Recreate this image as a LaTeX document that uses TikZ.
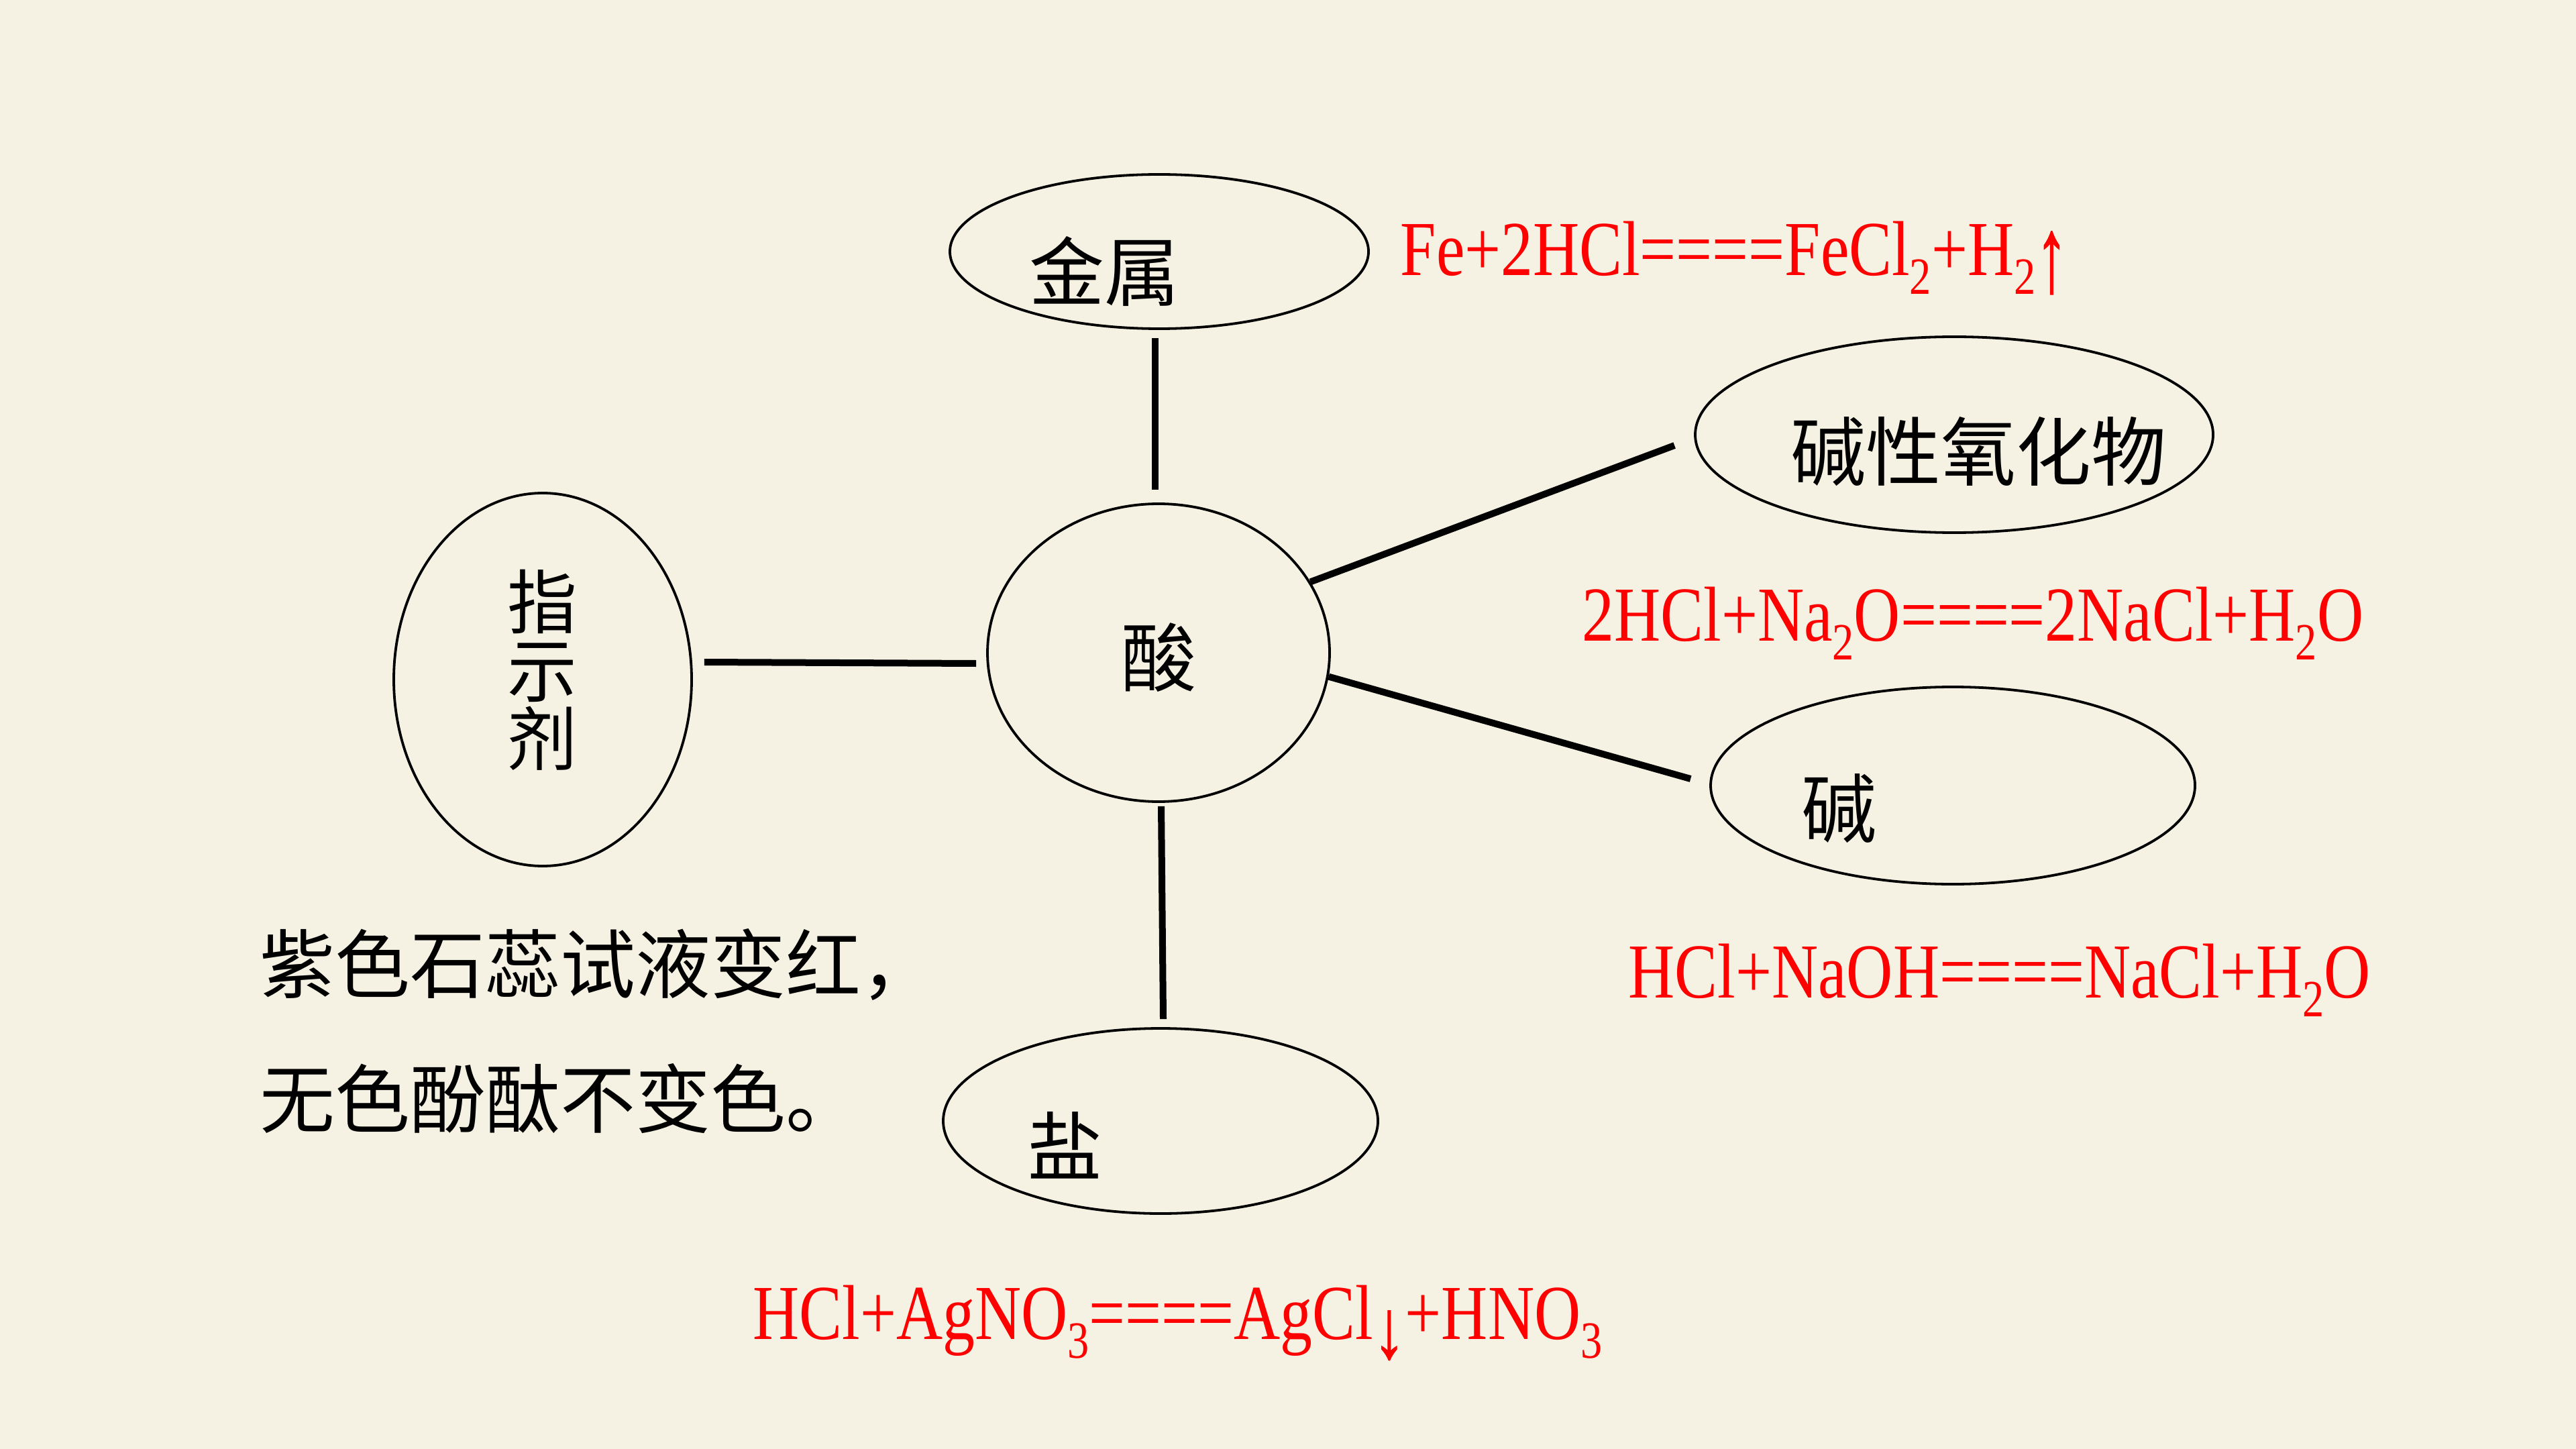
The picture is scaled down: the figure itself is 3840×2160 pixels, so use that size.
\documentclass[tikz,border=0pt]{standalone}
\usepackage{fontspec}
\usepackage{graphicx}
\usetikzlibrary{shapes.geometric}
\newfontfamily\cjk{Noto Sans CJK SC}
\newfontfamily\chem[FakeStretch=0.825]{Liberation Serif}
\newfontfamily\chemarrow[FakeBold=1]{Liberation Serif}
\definecolor{bg}{RGB}{245,241,227}
\definecolor{chemred}{RGB}{255,0,0}
\newcommand\chsub[1]{\raisebox{-7pt}{\fontsize{19.5pt}{19.5pt}\selectfont #1}}
\newcommand\chup{\raisebox{-5.8pt}{\resizebox*{12pt}{23.5pt}{\chemarrow ↑}}}
\newcommand\chdown{\raisebox{-7pt}{\resizebox*{12pt}{18.5pt}{\chemarrow ↓}}}
\begin{document}
\begin{tikzpicture}[x=0.25pt,y=-0.25pt,
 oval/.style={ellipse,draw=black,line width=0.95pt,inner sep=0pt},
 link/.style={line width=2.5pt,black},
 zh/.style={font=\cjk\fontsize{28pt}{30pt}\selectfont,inner sep=0pt},
 zhv/.style={font=\cjk\fontsize{26pt}{25.5pt}\selectfont,inner sep=0pt,align=center},
 eq/.style={font=\chem\fontsize{29pt}{32pt}\selectfont,text=chemred,inner sep=0pt,anchor=base west}]
\fill[bg] (0,0) rectangle (3840,2160);
\useasboundingbox (0,0) rectangle (3840,2160);

% ellipses
\node[oval,minimum width=156pt,minimum height=57.5pt] (jin) at (1728,375) {};
\node[oval,minimum width=193pt,minimum height=73pt] (jxy) at (2913,648) {};
\node[oval,minimum width=111pt,minimum height=139pt] (zsj) at (809,1013) {};
\node[oval,minimum width=127.5pt,minimum height=111pt] (suan) at (1727,973) {};
\node[oval,minimum width=180.5pt,minimum height=73.5pt] (jian) at (2911,1171) {};
\node[oval,minimum width=162pt,minimum height=69pt] (yan) at (1730,1671) {};

% labels
\node[zh] (tjin) at (1646,404) {金属};
\node[zh] (tjxy) at (2949,673) {碱性氧化物};
\node[zhv] (tzsj) at (808,999) {指\\示\\剂};
\node[zh] (tsuan) at (1727,980) {酸};
\node[zh] (tjian) at (2741,1205) {碱};
\node[zh] (tyan) at (1587,1707) {盐};

% connectors
\draw[link] ([xshift=-1.5pt,yshift=-3pt]jin.south) -- ([xshift=-1.25pt,yshift=4.75pt]suan.north);
\draw[link] (suan.25) -- ([xshift=-7.25pt,yshift=-4pt]jxy.west);
\draw[link] ([xshift=4.25pt,yshift=6.5pt]zsj.east) -- ([xshift=-3.75pt,yshift=-4pt]suan.west);
\draw[link] (suan.-8) -- ([xshift=-7pt,yshift=2.5pt]jian.west);
\draw[link] ([xshift=1pt,yshift=-1.25pt]suan.south) -- ([xshift=1pt,yshift=3pt]yan.north);

% equations
\node[eq] (e1) at (2087,411) {Fe+2HCl====FeCl\chsub{2}+H\chsub{2}\chup};
\node[eq] (e2) at (2358,955) {2HCl+Na\chsub{2}O====2NaCl+H\chsub{2}O};
\node[eq] (e3) at (2427,1487) {HCl+NaOH====NaCl+H\chsub{2}O};
\node[eq] (e4) at (1122,1996) {HCl+AgNO\chsub{3}====AgCl\chdown+HNO\chsub{3}};

% indicator text
\node[zh,anchor=west] (n1) at (387,1438) {紫色石蕊试液变红，};
\node[zh,anchor=west] (n2) at (387,1638) {无色酚酞不变色。};
\end{tikzpicture}
\end{document}
